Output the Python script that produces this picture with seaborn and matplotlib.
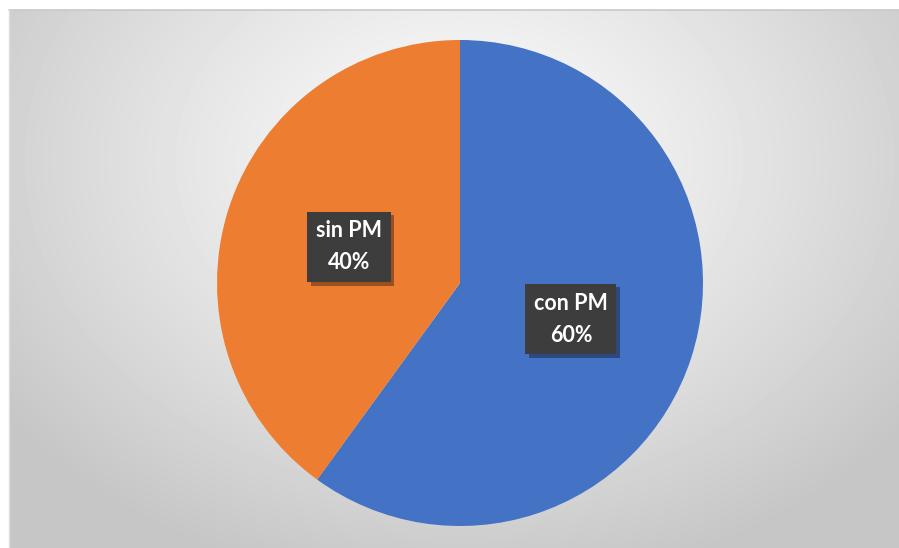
import numpy as np
import matplotlib
matplotlib.use("Agg")
import matplotlib.pyplot as plt
import matplotlib.patheffects as pe
import seaborn as sns

# data
labels = ["con PM", "sin PM"]
shares = [60, 40]
colors = ["#4472C4", "#ED7D31"]

sns.set_theme(style="white")
plt.rcParams['font.family'] = ['Lato', 'DejaVu Sans']

W, H = 899, 548
fig = plt.figure(figsize=(W / 100, H / 100), dpi=100)
fig.patch.set_facecolor("white")

# chart area with radial grey gradient
bg = fig.add_axes([9 / W, 0, (W - 9) / W, (H - 10) / H])
yy, xx = np.mgrid[0:538, 0:890]
r = np.sqrt(((xx - 450) / 560.0) ** 2 + ((yy - 150) / 430.0) ** 2)
r = np.clip(r, 0, 1)
val = (252 - 54 * r ** 1.2) / 255.0
bg.imshow(val, cmap="gray", vmin=0, vmax=1, aspect="auto", interpolation="bilinear")
bg.set_axis_off()
fig.add_artist(plt.Line2D([9 / W, 1], [(H - 10) / H] * 2, color="#c8c8c8", lw=1.2))
fig.add_artist(plt.Line2D([9 / W] * 2, [0, (H - 10) / H], color="#dddddd", lw=1.0))

# pie
cx, cy, rad = 460, 283, 243
ax = fig.add_axes([(cx - rad) / W, (H - cy - rad) / H, 2 * rad / W, 2 * rad / H])

wedges, _, autotexts = ax.pie(
    shares, colors=colors, startangle=90, counterclock=False, radius=1,
    autopct=lambda p: "", pctdistance=0.48,
    wedgeprops=dict(linewidth=0),
)
ax.set_xlim(-1, 1)
ax.set_ylim(-1, 1)
ax.set_axis_off()

for t, lab, v in zip(autotexts, labels, shares):
    t.set_text(f"{lab}\n{v}%")
    t.set_color("white")
    t.set_fontsize(15.5)
    t.set_fontweight("bold")
    t.set_linespacing(1.65)
    t.set_bbox(dict(boxstyle="square,pad=0.4", facecolor="#3d3d3d", edgecolor="none"))
    t.get_bbox_patch().set_path_effects(
        [pe.SimplePatchShadow(offset=(2.5, -2.5), shadow_rgbFace="black", alpha=0.35), pe.Normal()]
    )

fig.savefig("out.png", dpi=100)
